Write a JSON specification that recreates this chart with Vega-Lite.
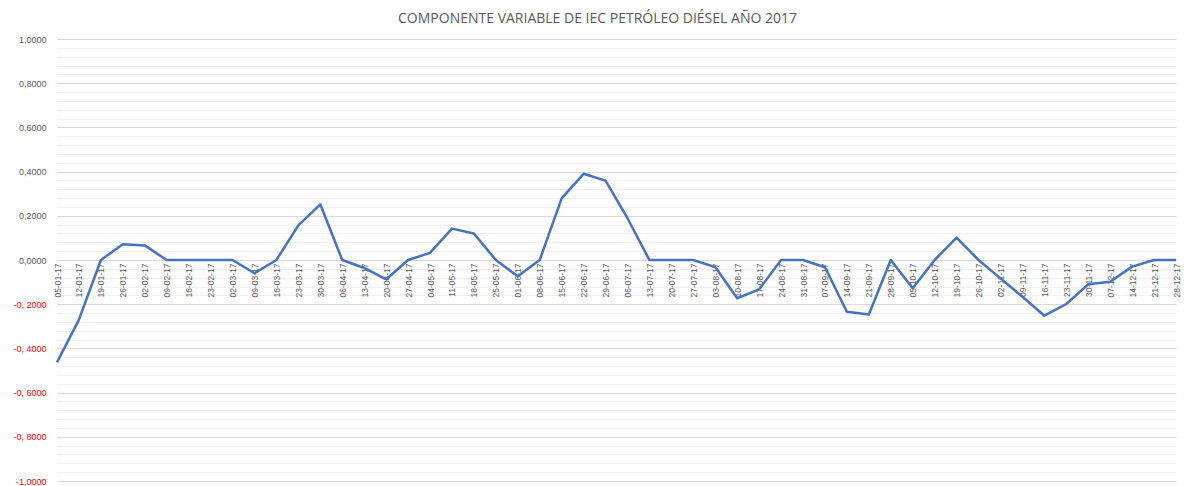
{
  "$schema": "https://vega.github.io/schema/vega-lite/v6.json",
  "autosize": "none",
  "width": 1119,
  "height": 442,
  "padding": {"left": 57, "top": 39, "right": 10, "bottom": 5},
  "background": "white",
  "title": {
    "text": "COMPONENTE VARIABLE DE IEC PETRÓLEO DIÉSEL AÑO 2017",
    "font": "Open Sans",
    "fontSize": 14,
    "fontWeight": "normal",
    "color": "#595959",
    "anchor": "middle",
    "dx": -19,
    "offset": 9
  },
  "config": {"view": {"stroke": null}},
  "data": {
    "values": [
      {"fecha": "05-01-17", "valor": -0.463},
      {"fecha": "12-01-17", "valor": -0.27},
      {"fecha": "19-01-17", "valor": 0.0},
      {"fecha": "26-01-17", "valor": 0.071},
      {"fecha": "02-02-17", "valor": 0.066},
      {"fecha": "09-02-17", "valor": 0.0},
      {"fecha": "16-02-17", "valor": 0.0},
      {"fecha": "23-02-17", "valor": 0.0},
      {"fecha": "02-03-17", "valor": 0.0},
      {"fecha": "09-03-17", "valor": -0.06},
      {"fecha": "16-03-17", "valor": 0.0},
      {"fecha": "23-03-17", "valor": 0.157},
      {"fecha": "30-03-17", "valor": 0.252},
      {"fecha": "06-04-17", "valor": 0.0},
      {"fecha": "13-04-17", "valor": -0.036},
      {"fecha": "20-04-17", "valor": -0.088},
      {"fecha": "27-04-17", "valor": 0.0},
      {"fecha": "04-05-17", "valor": 0.032},
      {"fecha": "11-05-17", "valor": 0.142},
      {"fecha": "18-05-17", "valor": 0.12},
      {"fecha": "25-05-17", "valor": 0.0},
      {"fecha": "01-06-17", "valor": -0.074},
      {"fecha": "08-06-17", "valor": 0.0},
      {"fecha": "15-06-17", "valor": 0.279},
      {"fecha": "22-06-17", "valor": 0.39},
      {"fecha": "29-06-17", "valor": 0.359},
      {"fecha": "06-07-17", "valor": 0.189},
      {"fecha": "13-07-17", "valor": 0.0},
      {"fecha": "20-07-17", "valor": 0.0},
      {"fecha": "27-07-17", "valor": 0.0},
      {"fecha": "03-08-17", "valor": -0.032},
      {"fecha": "10-08-17", "valor": -0.173},
      {"fecha": "17-08-17", "valor": -0.133},
      {"fecha": "24-08-17", "valor": 0.0},
      {"fecha": "31-08-17", "valor": 0.0},
      {"fecha": "07-09-17", "valor": -0.033},
      {"fecha": "14-09-17", "valor": -0.234},
      {"fecha": "21-09-17", "valor": -0.247},
      {"fecha": "28-09-17", "valor": 0.0},
      {"fecha": "05-10-17", "valor": -0.128},
      {"fecha": "12-10-17", "valor": 0.0},
      {"fecha": "19-10-17", "valor": 0.101},
      {"fecha": "26-10-17", "valor": 0.0},
      {"fecha": "02-11-17", "valor": -0.083},
      {"fecha": "09-11-17", "valor": -0.166},
      {"fecha": "16-11-17", "valor": -0.252},
      {"fecha": "23-11-17", "valor": -0.199},
      {"fecha": "30-11-17", "valor": -0.11},
      {"fecha": "07-12-17", "valor": -0.098},
      {"fecha": "14-12-17", "valor": -0.03},
      {"fecha": "21-12-17", "valor": 0.0},
      {"fecha": "28-12-17", "valor": 0.0}
    ]
  },
  "mark": {"type": "line", "color": "#4472C4", "strokeWidth": 2.5, "strokeJoin": "round"},
  "encoding": {
    "x": {
      "field": "fecha",
      "type": "ordinal",
      "sort": null,
      "scale": {"type": "point", "padding": 0},
      "axis": {
        "title": null,
        "orient": "bottom",
        "offset": -221,
        "labelAngle": 270,
        "labelAlign": "right",
        "labelBaseline": "middle",
        "labelPadding": 3,
        "labelFont": "Liberation Sans",
        "labelFontSize": 8.5,
        "labelColor": "#595959",
        "labelOverlap": false,
        "ticks": false,
        "domain": true,
        "domainColor": "#d9d9d9",
        "domainWidth": 1,
        "grid": false
      }
    },
    "y": {
      "field": "valor",
      "type": "quantitative",
      "scale": {"domain": [-1, 1], "nice": false, "zero": false},
      "axis": {
        "title": null,
        "values": [-1, -0.96, -0.92, -0.88, -0.84, -0.8, -0.76, -0.72, -0.68, -0.64, -0.6, -0.56, -0.52, -0.48, -0.44, -0.4, -0.36, -0.32, -0.28, -0.24, -0.2, -0.16, -0.12, -0.08, -0.04, 0, 0.04, 0.08, 0.12, 0.16, 0.2, 0.24, 0.28, 0.32, 0.36, 0.4, 0.44, 0.48, 0.52, 0.56, 0.6, 0.64, 0.68, 0.72, 0.76, 0.8, 0.84, 0.88, 0.92, 0.96, 1],
        "labelExpr": "abs(round(datum.value*100)) % 20 != 0 ? '' : (datum.value >= 0 ? replace(format(datum.value, '.4f'), '.', ',') : (datum.value <= -0.999 ? '-1,0000' : '-' + replace(format(-datum.value, '.4f'), '.', ', ')))",
        "labelColor": {"condition": {"test": "datum.value < -0.001", "value": "#ff0000"}, "value": "#595959"},
        "labelFont": "Liberation Sans",
        "labelFontSize": 9,
        "labelPadding": 11,
        "labelOverlap": false,
        "ticks": false,
        "domain": false,
        "grid": true,
        "gridColor": {"condition": {"test": "abs(round(datum.value*100)) % 20 == 0", "value": "#d9d9d9"}, "value": "#f0f0f0"},
        "gridWidth": 1
      }
    }
  }
}
